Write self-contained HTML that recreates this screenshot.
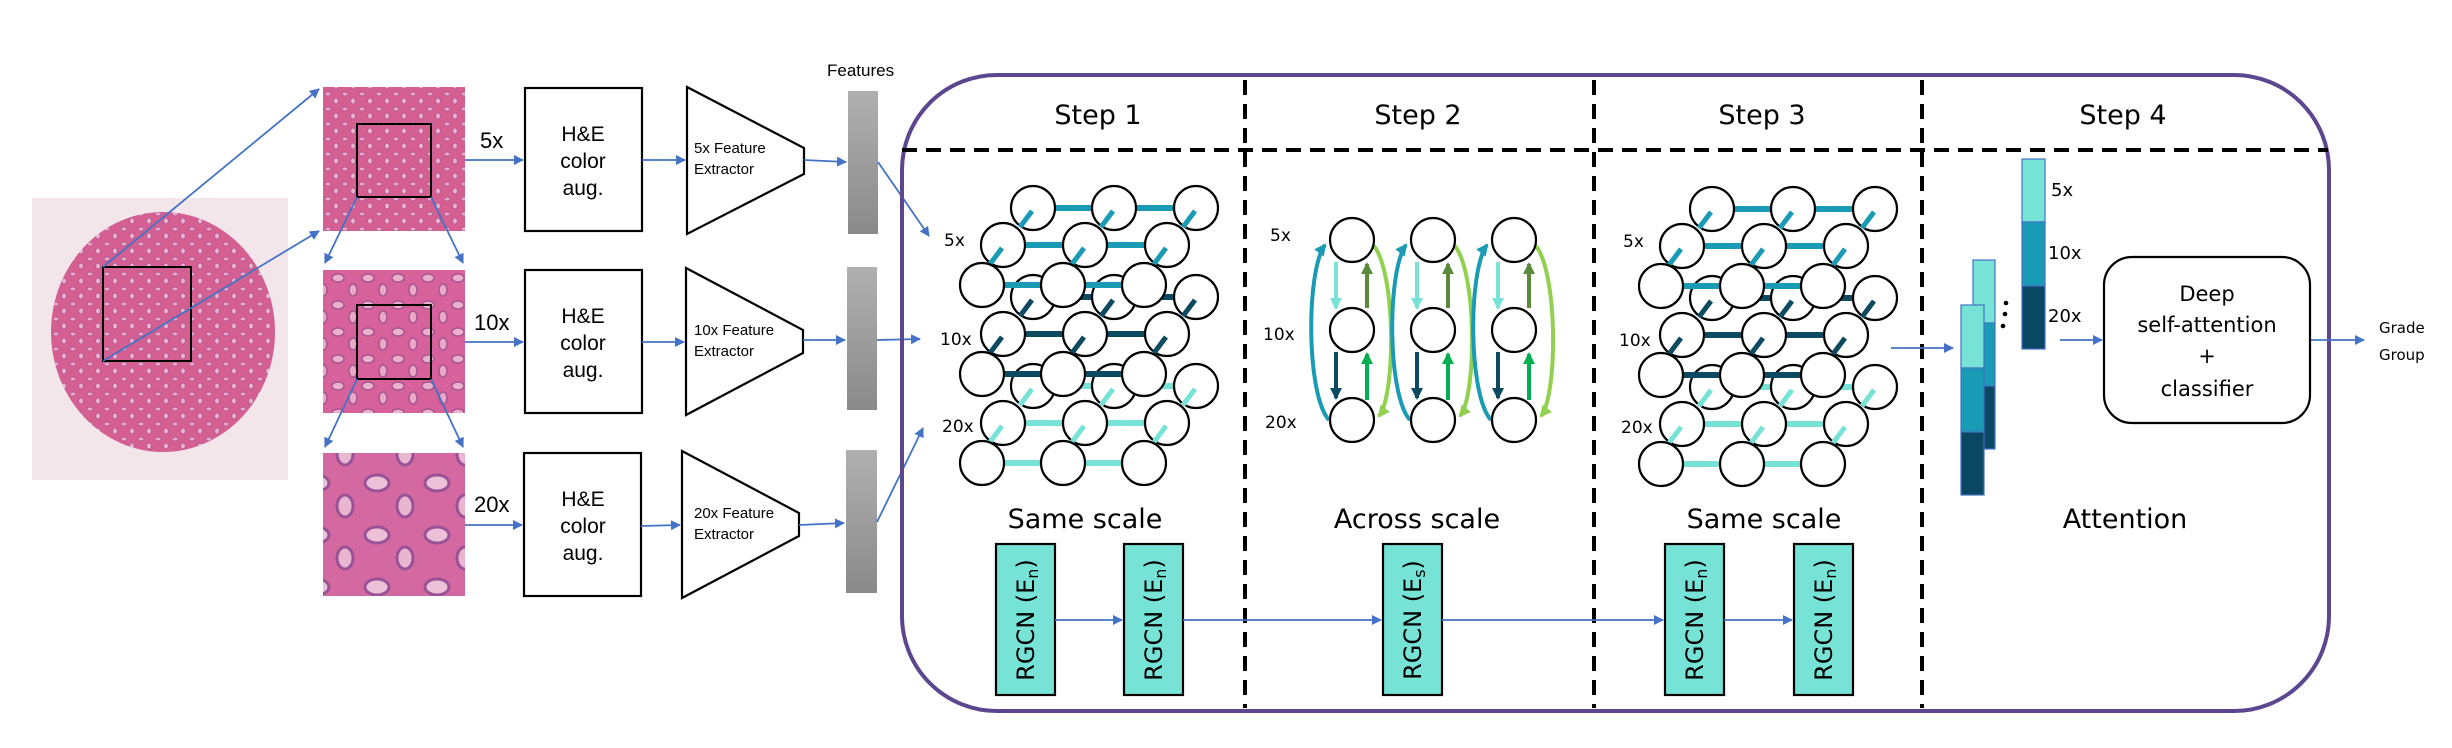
<!DOCTYPE html>
<html><head><meta charset="utf-8"><style>
html,body{margin:0;padding:0;background:#fff;}
svg{display:block;}
text{font-family:"Liberation Sans",sans-serif;}
.dv{font-family:"DejaVu Sans","Liberation Sans",sans-serif;}
</style></head><body>
<svg width="2452" height="748" viewBox="0 0 2452 748" xmlns="http://www.w3.org/2000/svg">
<defs>
<marker id="ab" markerWidth="10" markerHeight="10" refX="9" refY="5" orient="auto" markerUnits="userSpaceOnUse"><path d="M0,0 L10,5 L0,10 z" fill="#4472c4"/></marker>
<marker id="mLight" markerWidth="12" markerHeight="12" refX="10" refY="6" orient="auto" markerUnits="userSpaceOnUse"><path d="M0,0 L12,6 L0,12 z" fill="#76e3d6"/></marker>
<marker id="mOlive" markerWidth="12" markerHeight="12" refX="10" refY="6" orient="auto" markerUnits="userSpaceOnUse"><path d="M0,0 L12,6 L0,12 z" fill="#5b8a3a"/></marker>
<marker id="mNavy" markerWidth="12" markerHeight="12" refX="10" refY="6" orient="auto" markerUnits="userSpaceOnUse"><path d="M0,0 L12,6 L0,12 z" fill="#0c4a62"/></marker>
<marker id="mGreen" markerWidth="12" markerHeight="12" refX="10" refY="6" orient="auto" markerUnits="userSpaceOnUse"><path d="M0,0 L12,6 L0,12 z" fill="#00b050"/></marker>
<marker id="mBlue" markerWidth="12" markerHeight="12" refX="10" refY="6" orient="auto" markerUnits="userSpaceOnUse"><path d="M0,0 L12,6 L0,12 z" fill="#1a9bb5"/></marker>
<marker id="mLime" markerWidth="12" markerHeight="12" refX="10" refY="6" orient="auto" markerUnits="userSpaceOnUse"><path d="M0,0 L12,6 L0,12 z" fill="#92d050"/></marker>
<pattern id="tis" width="17" height="15" patternUnits="userSpaceOnUse">
<rect width="17" height="15" fill="#d65f92"/>
<ellipse cx="5" cy="4" rx="3" ry="2" fill="#e9a9c6" stroke="#b75a95" stroke-width="1"/>
<ellipse cx="13" cy="11" rx="2.5" ry="3" fill="#eab2cb" stroke="#b75a95" stroke-width="1"/>
</pattern>
<pattern id="tis2" width="30" height="27" patternUnits="userSpaceOnUse">
<rect width="30" height="27" fill="#d7619a"/>
<ellipse cx="8" cy="8" rx="6" ry="4" fill="#eab0cc" stroke="#a75592" stroke-width="1.5"/>
<ellipse cx="23" cy="20" rx="4" ry="6" fill="#e8a8c6" stroke="#a75592" stroke-width="1.5"/>
</pattern>
<pattern id="tis3" width="60" height="52" patternUnits="userSpaceOnUse">
<rect width="60" height="52" fill="#d468a0"/>
<ellipse cx="17" cy="15" rx="12" ry="8" fill="#ecc0d6" stroke="#9a5296" stroke-width="3"/>
<ellipse cx="45" cy="38" rx="8" ry="11" fill="#e9b6cf" stroke="#9a5296" stroke-width="3"/>
</pattern>
<linearGradient id="gbar" x1="0" y1="0" x2="0" y2="1"><stop offset="0" stop-color="#b0b0b0"/><stop offset="1" stop-color="#8a8a8a"/></linearGradient>

<g id="graph">
 <g stroke="#1a9bb5" stroke-width="6"><line x1="1033" y1="208" x2="1114" y2="208"/><line x1="1114" y1="208" x2="1196" y2="208"/></g>
 <g fill="#fff" stroke="#000" stroke-width="2.2"><circle cx="1033" cy="208" r="22"/><circle cx="1114" cy="208" r="22"/><circle cx="1196" cy="208" r="22"/></g>
 <g stroke="#1a9bb5" stroke-width="5"><line x1="1032" y1="211" x2="1020" y2="227"/><line x1="1113" y1="211" x2="1101" y2="227"/><line x1="1195" y1="211" x2="1183" y2="227"/></g>
 <g stroke="#1a9bb5" stroke-width="6"><line x1="1003" y1="245" x2="1085" y2="245"/><line x1="1085" y1="245" x2="1167" y2="245"/></g>
 <g fill="#fff" stroke="#000" stroke-width="2.2"><circle cx="1003" cy="245" r="22"/><circle cx="1085" cy="245" r="22"/><circle cx="1167" cy="245" r="22"/></g>
 <g stroke="#1a9bb5" stroke-width="5"><line x1="1002" y1="248" x2="990" y2="264"/><line x1="1084" y1="248" x2="1072" y2="264"/><line x1="1166" y1="248" x2="1154" y2="264"/></g>
 <g stroke="#0c4a62" stroke-width="6"><line x1="1033" y1="297" x2="1114" y2="297"/><line x1="1114" y1="297" x2="1196" y2="297"/></g>
 <g fill="#fff" stroke="#000" stroke-width="2.2"><circle cx="1033" cy="297" r="22"/><circle cx="1114" cy="297" r="22"/><circle cx="1196" cy="297" r="22"/></g>
 <g stroke="#0c4a62" stroke-width="5"><line x1="1032" y1="300" x2="1020" y2="316"/><line x1="1113" y1="300" x2="1101" y2="316"/><line x1="1195" y1="300" x2="1183" y2="316"/></g>
 <g stroke="#1a9bb5" stroke-width="6"><line x1="982" y1="285" x2="1063" y2="285"/><line x1="1063" y1="285" x2="1144" y2="285"/></g>
 <g fill="#fff" stroke="#000" stroke-width="2.2"><circle cx="982" cy="285" r="22"/><circle cx="1063" cy="285" r="22"/><circle cx="1144" cy="285" r="22"/></g>
 <g stroke="#0c4a62" stroke-width="6"><line x1="1003" y1="334" x2="1085" y2="334"/><line x1="1085" y1="334" x2="1167" y2="334"/></g>
 <g fill="#fff" stroke="#000" stroke-width="2.2"><circle cx="1003" cy="334" r="22"/><circle cx="1085" cy="334" r="22"/><circle cx="1167" cy="334" r="22"/></g>
 <g stroke="#0c4a62" stroke-width="5"><line x1="1002" y1="337" x2="990" y2="353"/><line x1="1084" y1="337" x2="1072" y2="353"/><line x1="1166" y1="337" x2="1154" y2="353"/></g>
 <g stroke="#76e3d6" stroke-width="6"><line x1="1033" y1="386" x2="1114" y2="386"/><line x1="1114" y1="386" x2="1196" y2="386"/></g>
 <g fill="#fff" stroke="#000" stroke-width="2.2"><circle cx="1033" cy="386" r="22"/><circle cx="1114" cy="386" r="22"/><circle cx="1196" cy="386" r="22"/></g>
 <g stroke="#76e3d6" stroke-width="5"><line x1="1032" y1="389" x2="1020" y2="405"/><line x1="1113" y1="389" x2="1101" y2="405"/><line x1="1195" y1="389" x2="1183" y2="405"/></g>
 <g stroke="#0c4a62" stroke-width="6"><line x1="982" y1="374" x2="1063" y2="374"/><line x1="1063" y1="374" x2="1144" y2="374"/></g>
 <g fill="#fff" stroke="#000" stroke-width="2.2"><circle cx="982" cy="374" r="22"/><circle cx="1063" cy="374" r="22"/><circle cx="1144" cy="374" r="22"/></g>
 <g stroke="#76e3d6" stroke-width="6"><line x1="1003" y1="423" x2="1085" y2="423"/><line x1="1085" y1="423" x2="1167" y2="423"/></g>
 <g fill="#fff" stroke="#000" stroke-width="2.2"><circle cx="1003" cy="423" r="22"/><circle cx="1085" cy="423" r="22"/><circle cx="1167" cy="423" r="22"/></g>
 <g stroke="#76e3d6" stroke-width="5"><line x1="1002" y1="426" x2="990" y2="442"/><line x1="1084" y1="426" x2="1072" y2="442"/><line x1="1166" y1="426" x2="1154" y2="442"/></g>
 <g stroke="#76e3d6" stroke-width="6"><line x1="982" y1="463" x2="1063" y2="463"/><line x1="1063" y1="463" x2="1144" y2="463"/></g>
 <g fill="#fff" stroke="#000" stroke-width="2.2"><circle cx="982" cy="463" r="22"/><circle cx="1063" cy="463" r="22"/><circle cx="1144" cy="463" r="22"/></g>
 <g font-size="17" fill="#000" class="dv"><text x="944" y="246" class="dv">5x</text><text x="940" y="345" class="dv">10x</text><text x="942" y="432" class="dv">20x</text></g>
</g>

<g id="col">
 <line x1="-16" y1="262" x2="-16" y2="308" stroke="#76e3d6" stroke-width="4" marker-end="url(#mLight)"/>
 <line x1="15" y1="308" x2="15" y2="264" stroke="#5b8a3a" stroke-width="4" marker-end="url(#mOlive)"/>
 <line x1="-16" y1="352" x2="-16" y2="398" stroke="#0c4a62" stroke-width="4" marker-end="url(#mNavy)"/>
 <line x1="15" y1="400" x2="15" y2="354" stroke="#00b050" stroke-width="4" marker-end="url(#mGreen)"/>
 <path d="M-23,420 C-46,395 -46,270 -27,245" fill="none" stroke="#1a9bb5" stroke-width="4" marker-end="url(#mBlue)"/>
 <path d="M21,245 C44,270 44,395 27,416" fill="none" stroke="#92d050" stroke-width="4" marker-end="url(#mLime)"/>
 <g fill="#fff" stroke="#000" stroke-width="2.2"><circle cx="0" cy="240" r="22"/><circle cx="0" cy="330" r="22"/><circle cx="0" cy="420" r="22"/></g>
</g>
</defs>

<rect x="32" y="198" width="256" height="282" fill="#f2e6eb"/>
<ellipse cx="163" cy="332" rx="112" ry="120" fill="url(#tis)"/>
<rect x="103" y="267" width="88" height="94" fill="none" stroke="#000" stroke-width="2"/>
<line x1="103" y1="267" x2="319" y2="89" stroke="#4472c4" stroke-width="1.8" marker-end="url(#ab)"/>
<line x1="103" y1="361" x2="319" y2="231" stroke="#4472c4" stroke-width="1.8" marker-end="url(#ab)"/>

<rect x="323" y="87" width="142" height="144" fill="url(#tis)"/>
<rect x="357" y="124" width="74" height="73" fill="none" stroke="#000" stroke-width="2"/>
<rect x="323" y="270" width="142" height="143" fill="url(#tis2)"/>
<rect x="357" y="305" width="74" height="74" fill="none" stroke="#000" stroke-width="2"/>
<rect x="323" y="453" width="142" height="143" fill="url(#tis3)"/>
<g stroke="#4472c4" stroke-width="1.8" marker-end="url(#ab)">
<line x1="357" y1="197" x2="325" y2="263"/><line x1="431" y1="197" x2="463" y2="263"/>
<line x1="357" y1="379" x2="325" y2="447"/><line x1="431" y1="379" x2="463" y2="447"/>
</g>
<g font-size="22"><text x="480" y="148">5x</text><text x="474" y="330">10x</text><text x="474" y="512">20x</text></g>

<g fill="#fff" stroke="#000" stroke-width="2.2">
<rect x="525" y="88" width="117" height="143"/><rect x="525" y="270" width="117" height="143"/><rect x="524" y="453" width="117" height="143"/>
</g>
<g font-size="21" text-anchor="middle">
<text x="583" y="141">H&amp;E</text><text x="583" y="168">color</text><text x="583" y="195">aug.</text>
<text x="583" y="323">H&amp;E</text><text x="583" y="350">color</text><text x="583" y="377">aug.</text>
<text x="583" y="506">H&amp;E</text><text x="583" y="533">color</text><text x="583" y="560">aug.</text>
</g>
<g fill="#fff" stroke="#000" stroke-width="2.2">
<path d="M687,87 L804,148 L804,174 L687,234 Z"/>
<path d="M686,268 L803,330 L803,353 L686,415 Z"/>
<path d="M682,451 L799,513 L799,536 L682,598 Z"/>
</g>
<g font-size="15">
<text x="694" y="153">5x Feature</text><text x="694" y="174">Extractor</text>
<text x="694" y="335">10x Feature</text><text x="694" y="356">Extractor</text>
<text x="694" y="518">20x Feature</text><text x="694" y="539">Extractor</text>
</g>
<rect x="848" y="91" width="30" height="143" fill="url(#gbar)"/>
<rect x="847" y="267" width="30" height="143" fill="url(#gbar)"/>
<rect x="846" y="450" width="31" height="143" fill="url(#gbar)"/>
<text x="827" y="76" font-size="17">Features</text>
<g stroke="#4472c4" stroke-width="1.8" marker-end="url(#ab)">
<line x1="465" y1="160" x2="523" y2="160"/><line x1="465" y1="342" x2="523" y2="342"/><line x1="465" y1="525" x2="522" y2="525"/>
<line x1="642" y1="160" x2="685" y2="160"/><line x1="642" y1="342" x2="684" y2="342"/><line x1="641" y1="526" x2="680" y2="525"/>
<line x1="804" y1="160" x2="846" y2="162"/><line x1="803" y1="340" x2="845" y2="340"/><line x1="799" y1="525" x2="844" y2="523"/>
<line x1="878" y1="162" x2="929" y2="236"/><line x1="877" y1="340" x2="920" y2="339"/><line x1="877" y1="522" x2="923" y2="428"/>
</g>

<rect x="902" y="75" width="1427" height="636" rx="95" ry="95" fill="none" stroke="#5d4690" stroke-width="4"/>
<g stroke="#000" stroke-width="4" stroke-dasharray="15,9">
<line x1="902" y1="150" x2="2328" y2="150"/>
<line x1="1245" y1="80" x2="1245" y2="708"/><line x1="1594" y1="80" x2="1594" y2="708"/><line x1="1922" y1="80" x2="1922" y2="708"/>
</g>
<g font-size="27" text-anchor="middle" class="dv">
<text x="1098" y="124" class="dv">Step 1</text><text x="1418" y="124" class="dv">Step 2</text><text x="1762" y="124" class="dv">Step 3</text><text x="2123" y="124" class="dv">Step 4</text>
<text x="1085" y="528" class="dv">Same scale</text><text x="1417" y="528" class="dv">Across scale</text><text x="1764" y="528" class="dv">Same scale</text><text x="2125" y="528" class="dv">Attention</text>
</g>

<use href="#graph"/>
<use href="#graph" transform="translate(679,1)"/>
<use href="#col" transform="translate(1352,0)"/>
<use href="#col" transform="translate(1433,0)"/>
<use href="#col" transform="translate(1514,0)"/>
<g font-size="17" class="dv"><text x="1270" y="241" class="dv">5x</text><text x="1263" y="340" class="dv">10x</text><text x="1265" y="428" class="dv">20x</text></g>

<g fill="#76e3d6" stroke="#000" stroke-width="2.2">
<rect x="996" y="544" width="59" height="151"/><rect x="1124" y="544" width="59" height="151"/><rect x="1383" y="544" width="59" height="151"/><rect x="1665" y="544" width="59" height="151"/><rect x="1794" y="544" width="59" height="151"/>
</g>
<g font-size="24" text-anchor="middle" class="dv">
<text class="dv" transform="translate(1034,620) rotate(-90)">RGCN (E<tspan font-size="16" dy="4">n</tspan><tspan dy="-4">)</tspan></text>
<text class="dv" transform="translate(1162,620) rotate(-90)">RGCN (E<tspan font-size="16" dy="4">n</tspan><tspan dy="-4">)</tspan></text>
<text class="dv" transform="translate(1421,620) rotate(-90)">RGCN (E<tspan font-size="16" dy="4">s</tspan><tspan dy="-4">)</tspan></text>
<text class="dv" transform="translate(1703,620) rotate(-90)">RGCN (E<tspan font-size="16" dy="4">n</tspan><tspan dy="-4">)</tspan></text>
<text class="dv" transform="translate(1832,620) rotate(-90)">RGCN (E<tspan font-size="16" dy="4">n</tspan><tspan dy="-4">)</tspan></text>
</g>
<g stroke="#4472c4" stroke-width="1.8" marker-end="url(#ab)">
<line x1="1055" y1="620" x2="1122" y2="620"/><line x1="1183" y1="620" x2="1381" y2="620"/><line x1="1442" y1="620" x2="1663" y2="620"/><line x1="1724" y1="620" x2="1792" y2="620"/>
<line x1="1891" y1="348" x2="1953" y2="348"/><line x1="2060" y1="340" x2="2102" y2="340"/><line x1="2310" y1="340" x2="2364" y2="340"/>
</g>

<g stroke="#4472c4" stroke-width="1.2">
<rect x="1973" y="260" width="22" height="63" fill="#76e3d6"/><rect x="1973" y="323" width="22" height="63" fill="#1a9bb5"/><rect x="1973" y="386" width="22" height="63" fill="#0a4763"/>
<rect x="1961" y="305" width="23" height="63" fill="#76e3d6"/><rect x="1961" y="368" width="23" height="64" fill="#1a9bb5"/><rect x="1961" y="432" width="23" height="63" fill="#0a4763"/>
<rect x="2022" y="159" width="23" height="63" fill="#76e3d6"/><rect x="2022" y="222" width="23" height="64" fill="#1a9bb5"/><rect x="2022" y="286" width="23" height="63" fill="#0a4763"/>
</g>
<circle cx="2006" cy="303" r="2.3"/><circle cx="2005" cy="314" r="2.3"/><circle cx="2003" cy="326" r="2.3"/>
<g font-size="18" class="dv"><text x="2051" y="196" class="dv">5x</text><text x="2048" y="259" class="dv">10x</text><text x="2048" y="322" class="dv">20x</text></g>
<rect x="2104" y="257" width="206" height="166" rx="28" ry="28" fill="#fff" stroke="#000" stroke-width="2.2"/>
<g font-size="21" text-anchor="middle" class="dv">
<text x="2207" y="301" class="dv">Deep</text><text x="2207" y="332" class="dv">self-attention</text><text x="2207" y="363" class="dv">+</text><text x="2207" y="396" class="dv">classifier</text>
</g>
<g font-size="15" class="dv"><text x="2379" y="333" class="dv">Grade</text><text x="2379" y="360" class="dv">Group</text></g>
</svg>
</body></html>
